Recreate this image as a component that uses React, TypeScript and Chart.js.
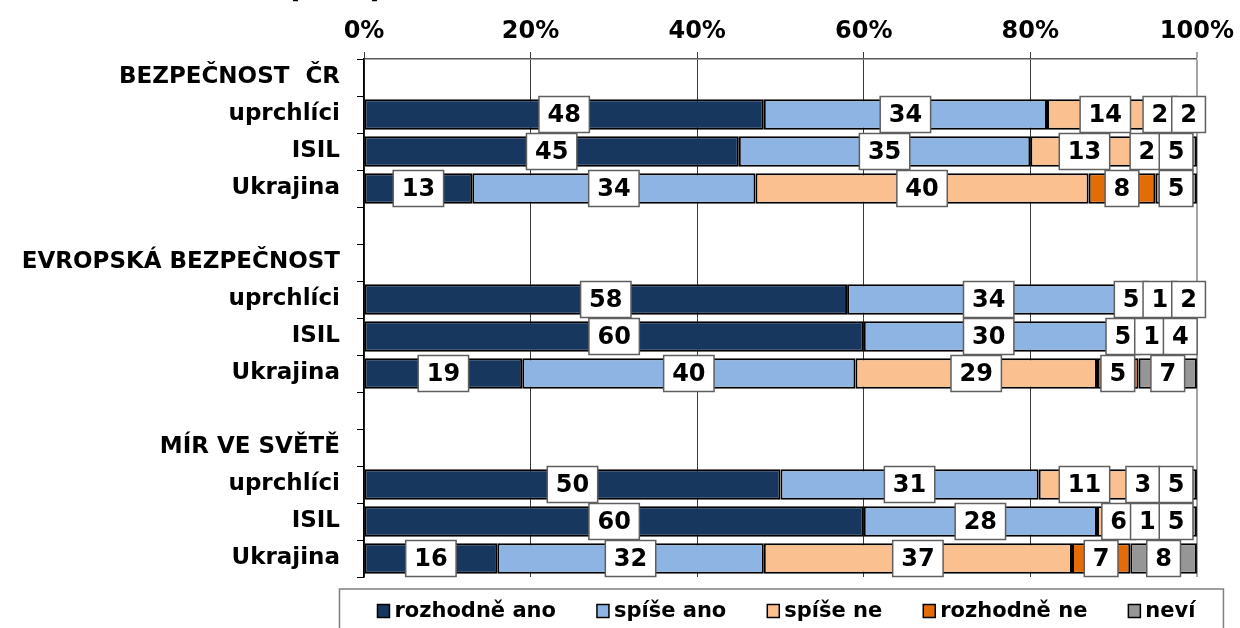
import { useEffect, useRef } from "react"
import { Chart, registerables } from "chart.js"

Chart.register(...registerables)

const FONT = '"DejaVu Sans", Verdana, sans-serif'

// chart data
const titleText = "(v %)"
const categories = [
  "BEZPEČNOST  ČR", "uprchlíci", "ISIL", "Ukrajina", "",
  "EVROPSKÁ BEZPEČNOST", "uprchlíci", "ISIL", "Ukrajina", "",
  "MÍR VE SVĚTĚ", "uprchlíci", "ISIL", "Ukrajina",
]
const seriesNames = ["rozhodně ano", "spíše ano", "spíše ne", "rozhodně ne", "neví"]
const rozhodneAno = [null, 48, 45, 13, null, null, 58, 60, 19, null, null, 50, 60, 16]
const spiseAno = [null, 34, 35, 34, null, null, 34, 30, 40, null, null, 31, 28, 32]
const spiseNe = [null, 14, 13, 40, null, null, 5, 5, 29, null, null, 11, 6, 37]
const rozhodneNe = [null, 2, 2, 8, null, null, 1, 1, 5, null, null, 3, 1, 7]
const nevi = [null, 2, 5, 5, null, null, 2, 4, 7, null, null, 5, 5, 8]
const xTicks = [0, 20, 40, 60, 80, 100]

const seriesColors = ["#17375E", "#8DB4E2", "#FAC090", "#E36C09", "#969696"]

// white boxed value labels, pushed left when they would collide
const boxLabels = {
  id: "boxLabels",
  afterDatasetsDraw: (chart: any) => {
    const { ctx, chartArea } = chart
    ctx.save()
    ctx.font = `bold 24px ${FONT}`
    ctx.textAlign = "center"
    ctx.textBaseline = "middle"
    for (let i = 0; i < chart.data.labels.length; i++) {
      const boxes: any[] = []
      chart.data.datasets.forEach((ds: any, d: number) => {
        const v = ds.data[i]
        if (v == null) return
        const el = chart.getDatasetMeta(d).data[i]
        const cx = (el.x + el.base) / 2
        const text = String(v)
        const w = ctx.measureText(text).width + 17
        boxes.push({ text, left: cx - w / 2, w, y: el.y })
      })
      for (let k = boxes.length - 1; k >= 0; k--) {
        const limit = k === boxes.length - 1 ? chartArea.right + 16 : boxes[k + 1].left + 5
        if (boxes[k].left + boxes[k].w > limit) boxes[k].left = limit - boxes[k].w
      }
      boxes.forEach((b) => {
        ctx.fillStyle = "#fff"
        ctx.fillRect(b.left, b.y - 18, b.w, 36)
        ctx.strokeStyle = "#5f5f5f"
        ctx.lineWidth = 1.5
        ctx.strokeRect(b.left, b.y - 18, b.w, 36)
        ctx.fillStyle = "#000"
        ctx.fillText(b.text, b.left + b.w / 2, b.y + 1)
      })
    }
    ctx.restore()
  },
}

// legend in a framed box under the plot
const legendBox = {
  id: "legendBox",
  afterDraw: (chart: any) => {
    const { ctx, chartArea } = chart
    ctx.save()
    ctx.font = `bold 21px ${FONT}`
    ctx.textBaseline = "middle"
    ctx.textAlign = "left"
    const markW = 12
    const markH = 13
    const gap = 5
    const itemGap = 41
    const items = chart.data.datasets.map((ds: any) => ({
      label: ds.label,
      color: ds.backgroundColor,
      w: markW + gap + ctx.measureText(ds.label).width,
    }))
    const total = items.reduce((s: number, it: any) => s + it.w, 0) + itemGap * (items.length - 1)
    let x = (chartArea.left + chartArea.right) / 2 + 6 - total / 2
    const y = 611
    ctx.strokeStyle = "#808080"
    ctx.lineWidth = 1.5
    ctx.strokeRect(x - 38, 589, total + 66, 60)
    items.forEach((it: any) => {
      ctx.fillStyle = it.color
      ctx.fillRect(x, y - markH / 2, markW, markH)
      ctx.strokeStyle = "#000"
      ctx.lineWidth = 1.5
      ctx.strokeRect(x, y - markH / 2, markW, markH)
      ctx.fillStyle = "#000"
      ctx.fillText(it.label, x + markW + gap, y + 1)
      x += it.w + itemGap
    })
    ctx.restore()
  },
}

// title mostly cut off at the top edge, only the bracket ends show
const cutTitle = {
  id: "cutTitle",
  afterDraw: (chart: any) => {
    const { ctx } = chart
    ctx.save()
    ctx.font = `bold 34px ${FONT}`
    ctx.textAlign = "center"
    ctx.textBaseline = "alphabetic"
    ctx.fillStyle = "#000"
    ctx.fillText(titleText, 335, -3)
    ctx.restore()
  },
}

export default function App() {
  const chartRef = useRef<HTMLCanvasElement>(null)
  const chartInstance = useRef<Chart | null>(null)

  useEffect(() => {
    if (!chartRef.current) return
    const ctx = chartRef.current.getContext("2d")
    if (!ctx) return
    if (chartInstance.current) chartInstance.current.destroy()

    const seriesData = [rozhodneAno, spiseAno, spiseNe, rozhodneNe, nevi]

    chartInstance.current = new Chart(ctx, {
      type: "bar",
      data: {
        labels: categories,
        datasets: seriesNames.map((name, i) => ({
          label: name,
          data: seriesData[i],
          backgroundColor: seriesColors[i],
          borderColor: "#000",
          borderWidth: 2,
          borderSkipped: false,
          barPercentage: 0.82,
          categoryPercentage: 1,
        })),
      },
      options: {
        indexAxis: "y",
        animation: false,
        responsive: false,
        devicePixelRatio: 1,
        layout: { padding: { left: 0, right: 43, top: 0, bottom: 51 } },
        scales: {
          x: {
            type: "linear",
            position: "top",
            stacked: true,
            min: 0,
            max: 100,
            afterBuildTicks: (scale: any) => {
              scale.ticks = xTicks.map((v) => ({ value: v }))
            },
            afterFit: (scale: any) => {
              scale.height = 59
            },
            ticks: {
              callback: (v: any) => v + "%",
              color: "#000",
              padding: 6,
              font: { family: FONT, size: 24, weight: "bold" },
            },
            grid: {
              color: (c: any) => (c.tick && c.tick.value === 100 ? "#a6a6a6" : "#3a3a3a"),
              lineWidth: (c: any) => (c.tick && c.tick.value === 100 ? 2 : 1),
              tickLength: 7,
            },
            border: { display: true, color: "#595959", width: 1.5 },
          },
          y: {
            type: "category",
            stacked: true,
            afterFit: (scale: any) => {
              scale.width = 364
            },
            ticks: {
              autoSkip: false,
              color: "#000",
              padding: 17,
              font: { family: FONT, size: 23, weight: "bold" },
            },
            grid: {
              drawOnChartArea: false,
              drawTicks: true,
              tickLength: 7,
              offset: true,
              color: "#000",
            },
            border: { display: true, color: "#000", width: 1.5 },
          },
        },
        plugins: {
          legend: { display: false },
          tooltip: { enabled: false },
        },
      } as any,
      plugins: [boxLabels, legendBox, cutTitle],
    })

    return () => {
      if (chartInstance.current) {
        chartInstance.current.destroy()
        chartInstance.current = null
      }
    }
  }, [])

  return (
    <div style={{ position: "absolute", left: 0, top: 0, width: 1240, height: 628, background: "#fff" }}>
      <canvas ref={chartRef} width={1240} height={628} style={{ display: "block" }} />
    </div>
  )
}
